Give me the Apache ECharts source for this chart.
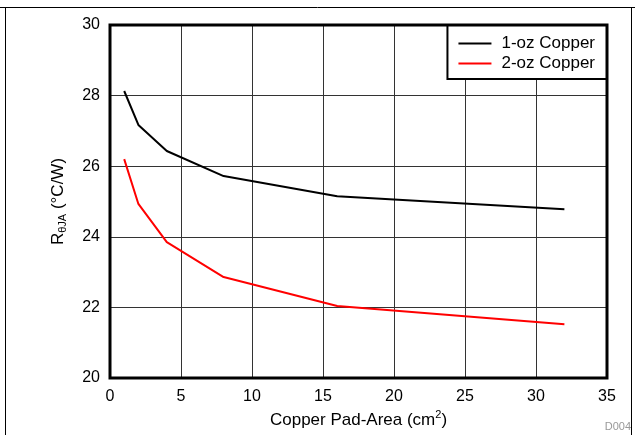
<!DOCTYPE html>
<html>
<head>
<meta charset="utf-8">
<script src="https://cdn.jsdelivr.net/npm/echarts@6/dist/echarts.min.js"></script>
<style>
  html, body { margin: 0; padding: 0; background: #fff; }
  #chart { width: 635px; height: 435px; }
</style>
</head>
<body>
<div id="chart"></div>
<script>
const padArea = [1, 2, 4, 8, 16, 32]
const oneOz = [28.13, 27.17, 26.43, 25.72, 25.15, 24.78]
const twoOz = [26.2, 24.93, 23.85, 22.86, 22.04, 21.52]
const seriesNames = ['1-oz Copper', '2-oz Copper']

const font = 'Liberation Sans, Arial, sans-serif'
const chart = echarts.init(document.getElementById('chart'))

const toPairs = (ys) => padArea.map((x, i) => [x, ys[i]])

chart.setOption({
  animation: false,
  grid: { left: 110, right: 28, top: 25, bottom: 57 },
  legend: {
    right: 28,
    top: 25,
    orient: 'vertical',
    backgroundColor: '#fff',
    borderColor: '#000',
    borderWidth: 2,
    borderRadius: 0,
    padding: [10, 12, 7, 11],
    itemGap: 3,
    itemWidth: 33,
    itemHeight: 2,
    icon: 'rect',
    textStyle: { fontFamily: font, fontSize: 17, color: '#000', padding: [0, 0, 0, 5] },
    data: seriesNames
  },
  xAxis: {
    type: 'value',
    min: 0,
    max: 35,
    interval: 5,
    name: 'Copper Pad-Area (cm{sup|2})',
    nameLocation: 'middle',
    nameGap: 29,
    nameTextStyle: {
      fontFamily: font, fontSize: 17, color: '#000',
      rich: { sup: { fontFamily: font, fontSize: 11, color: '#000', verticalAlign: 'top', padding: [0, 0, 9, 0] } }
    },
    axisLine: { show: false },
    axisTick: { show: false },
    axisLabel: { fontFamily: font, fontSize: 16, color: '#000', margin: 11 },
    splitLine: { lineStyle: { color: '#333', width: 1 } }
  },
  yAxis: {
    type: 'value',
    min: 20,
    max: 30,
    interval: 2,
    name: 'R{sub|θJA} (°C/W)',
    nameLocation: 'middle',
    nameRotate: 90,
    nameGap: 42,
    nameTextStyle: {
      fontFamily: font, fontSize: 17, color: '#000',
      rich: { sub: { fontFamily: font, fontSize: 11, color: '#000', verticalAlign: 'bottom', padding: [8, 0, 0, 0] } }
    },
    axisLine: { show: false },
    axisTick: { show: false },
    axisLabel: { fontFamily: font, fontSize: 16, color: '#000', margin: 10 },
    splitLine: { lineStyle: { color: '#333', width: 1 } }
  },
  graphic: [
    { type: 'rect', shape: { x: 110, y: 25, width: 497, height: 353 }, style: { fill: 'none', stroke: '#000', lineWidth: 3 }, z: 10 },
    { type: 'line', shape: { x1: 0, y1: 7.5, x2: 635, y2: 7.5 }, style: { stroke: '#000', lineWidth: 1 } },
    { type: 'line', shape: { x1: 5.5, y1: 7.5, x2: 5.5, y2: 435 }, style: { stroke: '#000', lineWidth: 1 } },
    { type: 'line', shape: { x1: 631.5, y1: 7.5, x2: 631.5, y2: 435 }, style: { stroke: '#000', lineWidth: 1 } },
    { type: 'text', right: 4, bottom: 3, style: { text: 'D004', fontFamily: font, fontSize: 11, fill: '#999' } }
  ],
  series: [
    {
      name: seriesNames[0],
      type: 'line',
      data: toPairs(oneOz),
      symbol: 'none',
      lineStyle: { color: '#000', width: 2 },
      itemStyle: { color: '#000' }
    },
    {
      name: seriesNames[1],
      type: 'line',
      data: toPairs(twoOz),
      symbol: 'none',
      lineStyle: { color: '#ff0000', width: 2 },
      itemStyle: { color: '#ff0000' }
    }
  ]
})
</script>
</body>
</html>
